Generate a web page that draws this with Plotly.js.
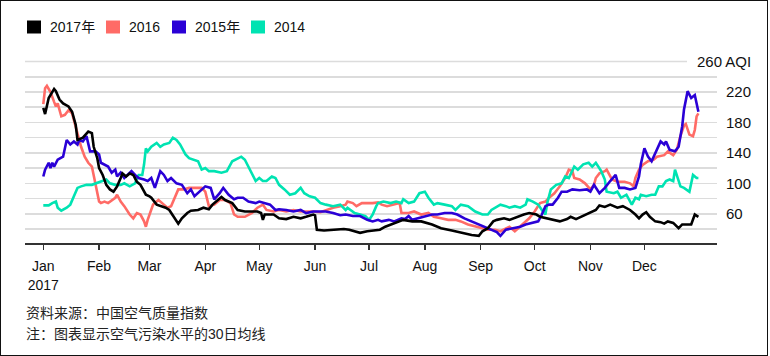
<!DOCTYPE html>
<html>
<head>
<meta charset="utf-8">
<script src="https://cdn.plot.ly/plotly-3.0.1.min.js"></script>
<style>
  html, body { margin: 0; padding: 0; background: #fff; }
  #wrap { position: relative; width: 770px; height: 356px; }
  #chart { position: absolute; left: 0; top: 0; width: 770px; height: 356px; }
  #frame { position: absolute; left: 0; top: 0; width: 768px; height: 356px; box-sizing: border-box; border: 1.5px solid #111; pointer-events: none; }
</style>
</head>
<body>
<div id="wrap"><div id="chart"></div><div id="frame"></div></div>
<script>
// ---- Data (day of year, 0 = Jan 1; 30-day average AQI) ----
const seriesNames = ['2017年', '2016', '2015年', '2014'];

const day2017 = [0,1,3,6,7,9,11,14,16,18,19,22,25,27,28,30,31,33,35,37,39,41,43,44,46,48,50,52,54,56,57,59,60,63,68,70,73,75,77,80,82,86,89,92,94,96,99,101,105,108,112,116,119,121,122,123,124,128,131,135,139,143,146,150,151,152,156,161,167,170,174,176,180,183,187,190,195,200,205,210,216,221,227,232,238,242,244,247,250,252,256,259,263,267,270,274,276,280,283,287,291,293,296,300,304,307,309,312,315,319,322,326,329,331,333,335,337,340,343,345,347,350,353,355,357,360,362,364];
const aqi2017 = [199,191,212,224,221,210,205,201,194,177,157,160,168,166,148,133,120,111,98,92,89,96,107,113,109,113,111,102,98,89,85,83,81,72,68,65,54,47,54,61,64,65,68,66,72,76,82,78,74,65,63,63,63,61,52,59,59,59,54,53,56,54,56,59,58,39,38,39,40,39,37,35,37,38,39,43,48,52,50,50,46,41,38,35,32,31,37,41,50,52,54,52,56,59,61,59,56,54,52,50,53,56,53,57,61,65,71,69,72,68,70,65,59,54,59,62,56,50,49,47,50,48,41,46,46,46,59,56];

const day2016 = [0,1,2,4,6,7,8,10,12,14,16,18,19,21,23,25,27,28,29,31,32,34,36,38,40,41,43,45,48,50,52,54,56,57,58,61,64,67,69,71,73,75,78,81,84,88,90,92,95,98,101,104,106,108,112,116,119,122,124,128,131,135,139,143,146,150,154,157,161,165,168,169,172,174,177,180,183,186,188,191,195,198,199,203,206,210,214,217,221,225,229,232,236,240,244,247,251,254,256,259,262,265,268,270,273,276,279,281,284,287,290,292,294,295,298,301,304,306,307,309,312,313,316,319,323,326,328,329,331,333,336,339,341,345,347,350,352,354,356,357,359,361,362,363,364];
const aqi2016 = [204,225,228,220,207,201,205,188,190,196,192,175,166,148,135,127,122,111,98,76,74,76,74,78,81,85,76,70,59,54,61,59,50,43,52,72,78,72,68,70,81,92,92,94,94,94,89,70,72,78,78,74,59,56,56,61,68,72,65,63,65,63,65,63,63,63,62,65,68,70,72,76,74,70,74,74,74,75,72,70,72,74,61,61,63,59,61,56,54,52,52,50,46,43,41,39,39,37,39,43,37,43,50,54,63,74,76,81,87,96,107,118,116,107,105,100,92,98,107,113,116,118,105,102,102,100,96,107,118,124,129,131,135,137,142,137,144,162,176,178,164,162,170,188,192];

const day2015 = [0,1,3,4,5,6,8,11,13,15,17,19,20,22,24,25,26,29,31,32,34,36,38,40,41,43,45,47,49,51,53,56,58,60,62,65,67,69,71,74,77,80,82,84,87,90,93,95,98,100,103,106,108,111,114,118,120,123,126,129,131,135,139,143,146,150,154,157,161,165,168,172,176,180,183,186,188,192,195,199,201,203,205,208,212,216,219,223,227,230,234,238,242,245,248,252,254,257,261,265,268,272,275,277,279,281,283,286,288,291,294,298,302,304,306,309,312,315,318,320,323,326,329,331,332,334,336,338,340,343,345,346,348,351,353,355,356,358,360,362,364];
const aqi2015 = [109,118,127,120,127,122,131,135,157,151,155,151,157,155,162,153,142,142,138,127,125,122,114,118,109,114,107,111,116,111,107,105,103,107,94,116,111,103,107,100,98,87,92,83,89,96,94,79,87,94,85,79,81,81,76,74,76,74,72,65,66,65,63,65,61,63,63,63,61,58,59,57,57,52,50,52,50,52,50,54,53,57,52,54,57,59,59,61,61,59,54,50,46,43,40,36,31,39,41,43,46,48,50,59,70,72,72,81,89,89,92,91,92,89,98,87,94,103,111,94,94,92,94,109,125,146,135,129,140,155,151,155,144,142,148,175,197,221,212,216,194];

const day2014 = [0,3,5,7,8,10,13,15,17,19,21,24,27,29,32,35,37,40,43,45,48,51,53,55,56,57,58,60,63,65,67,70,72,74,76,79,81,84,86,88,90,92,95,99,102,105,107,110,112,115,118,120,122,124,127,129,131,134,137,140,143,145,148,151,154,157,161,165,168,169,173,176,179,181,183,185,186,189,193,196,199,200,203,206,209,212,214,217,219,223,227,229,232,236,240,244,247,249,251,254,257,259,262,265,268,269,272,275,277,279,280,282,285,288,290,292,295,297,300,303,305,307,310,312,313,317,319,321,324,327,329,331,332,335,338,340,342,344,346,348,350,351,354,356,359,361,363,364];
const aqi2014 = [71,71,74,76,68,64,68,72,83,94,96,98,98,100,103,105,100,98,98,100,96,100,111,111,125,146,142,148,153,148,151,153,160,157,151,138,133,131,129,118,120,116,116,114,116,129,131,135,131,118,103,107,103,103,109,107,98,92,85,87,94,87,83,81,74,72,70,72,65,68,61,59,57,52,59,70,74,76,74,76,74,79,74,76,87,89,81,72,74,72,70,65,72,70,63,59,59,65,68,72,70,68,70,68,72,79,76,72,65,59,74,92,98,100,109,107,122,118,125,127,122,127,116,105,89,87,89,81,85,72,81,79,85,83,85,85,96,96,103,105,103,118,96,94,89,111,107,107];

const colors = ['#000000', '#ff6b66', '#2a00d6', '#00e3b2'];
const yTicks = [60, 100, 140, 180, 220];
const yMinorGrid = [40, 80, 120, 160, 200, 240];
const monthTicks = ['2017-01-01','2017-02-01','2017-03-01','2017-04-01','2017-05-01','2017-06-01','2017-07-01','2017-08-01','2017-09-01','2017-10-01','2017-11-01','2017-12-01'];
const monthLabels = ['Jan<br>2017','Feb','Mar','Apr','May','Jun','Jul','Aug','Sep','Oct','Nov','Dec'];
const sourceText = '资料来源：中国空气质量指数';
const noteText = '注：图表显示空气污染水平的30日均线';

// ---- Build ----
function toDate(d) {
  return new Date(Date.UTC(2017, 0, 1 + d)).toISOString().slice(0, 10);
}
const W = 770, H = 356, ML = 25, MR = 53, MT = 60, MB = 113;
const PW = W - ML - MR, PH = H - MT - MB;
const xp = px => (px - ML) / PW;
const yp = py => (H - MB - py) / PH;

const allDays = [day2017, day2016, day2015, day2014];
const allVals = [aqi2017, aqi2016, aqi2015, aqi2014];
const drawOrder = [1, 3, 2, 0];
const traces = drawOrder.map(i => ({
  type: 'scatter', mode: 'lines', name: seriesNames[i],
  x: allDays[i].map(toDate), y: allVals[i],
  line: { color: colors[i], width: 2.6 },
  hoverinfo: 'skip', showlegend: false
}));

const font = 'Liberation Sans, Arial, Helvetica, sans-serif';
const cjk = '"Liberation Sans", Arial, "Noto Sans CJK SC", sans-serif';

const legendSq = [[27, 41], [106, 120], [172, 186], [251, 265]];
const legendTx = [48, 127, 193, 272];
const shapes = [];
const annotations = [];
seriesNames.forEach((n, i) => {
  shapes.push({ type: 'rect', xref: 'paper', yref: 'paper',
    x0: xp(legendSq[i][0]), x1: xp(legendSq[i][1]), y0: yp(33.5), y1: yp(20.5),
    fillcolor: colors[i], line: { width: 0 } });
  annotations.push({ xref: 'paper', yref: 'paper', x: xp(legendTx[i]), y: yp(27.5),
    xanchor: 'left', yanchor: 'middle', showarrow: false, text: n,
    font: { family: cjk, size: 14, color: '#111' } });
});
shapes.push({ type: 'line', xref: 'paper', yref: 'y', x0: 0, x1: xp(687), y0: 260, y1: 260,
  line: { color: '#dcdcdc', width: 1.5 }, layer: 'below' });
annotations.push({ xref: 'paper', yref: 'y', x: xp(753), y: 260, xanchor: 'right', yanchor: 'middle',
  showarrow: false, text: '260 AQI', font: { family: font, size: 15, color: '#111' } });
annotations.push({ xref: 'paper', yref: 'paper', x: xp(24), y: yp(313), xanchor: 'left', yanchor: 'middle',
  showarrow: false, text: sourceText, font: { family: cjk, size: 14, color: '#222' } });
annotations.push({ xref: 'paper', yref: 'paper', x: xp(24), y: yp(334), xanchor: 'left', yanchor: 'middle',
  showarrow: false, text: noteText, font: { family: cjk, size: 14, color: '#222' } });

const layout = {
  width: W, height: H,
  margin: { l: ML, r: MR, t: MT, b: MB, pad: 0 },
  paper_bgcolor: '#fff', plot_bgcolor: '#fff',
  showlegend: false,
  xaxis: {
    type: 'date', range: ['2016-12-21 20:00', '2018-01-10 08:00'],
    tickmode: 'array', tickvals: monthTicks, ticktext: monthLabels,
    showgrid: false, zeroline: false,
    showline: true, linecolor: '#333', linewidth: 1.5,
    ticks: 'outside', ticklen: 5, tickwidth: 1.5, tickcolor: '#333',
    ticklabelstandoff: 5,
    tickfont: { family: font, size: 14, color: '#111' }
  },
  yaxis: {
    side: 'right', range: [21.6, 262], fixedrange: true,
    tickmode: 'array', tickvals: yTicks, ticks: '',
    showgrid: true, gridcolor: '#dcdcdc', gridwidth: 1.5, zeroline: false, showline: false,
    minor: { tickmode: 'array', tickvals: yMinorGrid, showgrid: true, gridcolor: '#dcdcdc', gridwidth: 1.5, ticks: '' },
    ticklabelstandoff: 8,
    tickfont: { family: font, size: 15, color: '#111' }
  },
  shapes: shapes,
  annotations: annotations
};

Plotly.newPlot('chart', traces, layout, { staticPlot: true, displayModeBar: false });
</script>
</body>
</html>
